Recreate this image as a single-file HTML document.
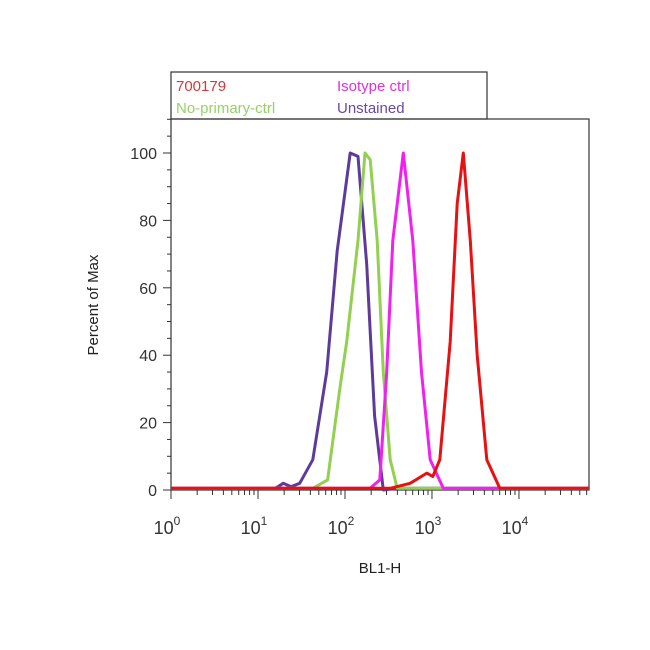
<!DOCTYPE html>
<html><head><meta charset="utf-8"><style>
body{margin:0;background:#fff;}
svg{display:block;font-family:"Liberation Sans",Arial,sans-serif;}
</style></head><body>
<svg id="chart" width="650" height="650" viewBox="0 0 650 650">
<rect width="650" height="650" fill="#fff"/>
<g>
<rect x="171" y="72" width="316" height="47" fill="#fff" stroke="#333" stroke-width="1.2"/>
<text x="176" y="91" font-size="15" fill="#d03a3a">700179</text>
<text x="337" y="91" font-size="15" fill="#e030e0">Isotype ctrl</text>
<text x="176" y="113" font-size="15" fill="#98d068">No-primary-ctrl</text>
<text x="337" y="113" font-size="15" fill="#6848a8">Unstained</text>
</g>
<rect x="171" y="119" width="418" height="371" fill="none" stroke="#333" stroke-width="1.2"/>
<g id="axes"></g>
<g id="series"></g>
<text x="98" y="305" font-size="15" fill="#222" text-anchor="middle" transform="rotate(-90 98 305)">Percent of Max</text>
<text x="380" y="573" font-size="15" fill="#222" text-anchor="middle">BL1-H</text>
</svg>
<script>
const yTicks=[0,20,40,60,80,100];
const xDecades=[0,1,2,3,4];
const unstainedX=[0,1.2,1.29,1.38,1.48,1.63,1.79,1.91,2.06,2.15,2.25,2.34,2.44,2.6,4.8];
const unstainedY=[0.5,0.5,2,1,2,9,35,71,100,99,67,22,0,0.5,0.5];
const noPrimaryX=[0,1.6,1.63,1.8,1.94,2.02,2.15,2.23,2.29,2.37,2.44,2.52,2.6,4.8];
const noPrimaryY=[0.5,0.5,0.5,3,30,44,74,100,98,74,35,9,0.5,0.5];
const isotypeX=[0,2.25,2.29,2.4,2.48,2.55,2.67,2.78,2.88,2.98,3.13,4.8];
const isotypeY=[0.5,0.5,0.5,3,35,74,100,74,35,9,0.5,0.5];
const abX=[0,2.52,2.75,2.94,3.01,3.09,3.21,3.29,3.36,3.44,3.52,3.63,3.78,4.8];
const abY=[0.5,0.5,2,5,4,9,44,85,100,74,40,9,0.5,0.5];
const NS='http://www.w3.org/2000/svg';
const X0=171,X1=589,LMAX=4.805,Y0=490,Y100=153;
function sx(l){return X0+(X1-X0)*l/LMAX;}
function sy(v){return Y0+(Y100-Y0)*v/100;}
const ax=document.getElementById('axes');
function mk(tag,attrs,parent){const e=document.createElementNS(NS,tag);for(const k in attrs)e.setAttribute(k,attrs[k]);parent.appendChild(e);return e;}
for(let v=0;v<=110;v+=5){const big=yTicks.includes(v);
 const t=mk('line',{x1:X0-(big?8:4),x2:X0,y1:sy(v),y2:sy(v),stroke:'#333','stroke-width':1},ax);
 
 }
yTicks.forEach(v=>{const t=mk('text',{x:X0-14,y:sy(v)+6,'font-size':16,fill:'#333','text-anchor':'end'},ax);t.textContent=v;
 
 });
for(let d=0;d<5;d++){for(let m=1;m<=9;m++){const l=d+Math.log10(m);if(l>LMAX)break;
 const t=mk('line',{x1:sx(l),x2:sx(l),y1:Y0,y2:Y0+(m===1?9:5),stroke:'#333','stroke-width':1},ax);
 
 }}
xDecades.forEach(d=>{const t=mk('text',{x:sx(d)-4,y:534,'font-size':18,fill:'#333','text-anchor':'middle'},ax);
 t.textContent='10';const s=mk('tspan',{dy:-9,'font-size':12},t);s.textContent=d;
 
 });
const sg=document.getElementById('series');
[[unstainedX,unstainedY,'#5e3a9a','series-unstained'],[noPrimaryX,noPrimaryY,'#92d050','series-no-primary-ctrl'],[isotypeX,isotypeY,'#f020f0','series-isotype-ctrl'],[abX,abY,'#e81010','series-700179']].forEach(([xs,ys,c,n])=>{
 const pts=xs.map((l,i)=>sx(l).toFixed(1)+','+sy(ys[i]).toFixed(1)).join(' ');
 const p=mk('polyline',{points:pts,fill:'none',stroke:c,'stroke-width':3,'stroke-linejoin':'round'},sg);
 
 });
</script>
</body></html>
